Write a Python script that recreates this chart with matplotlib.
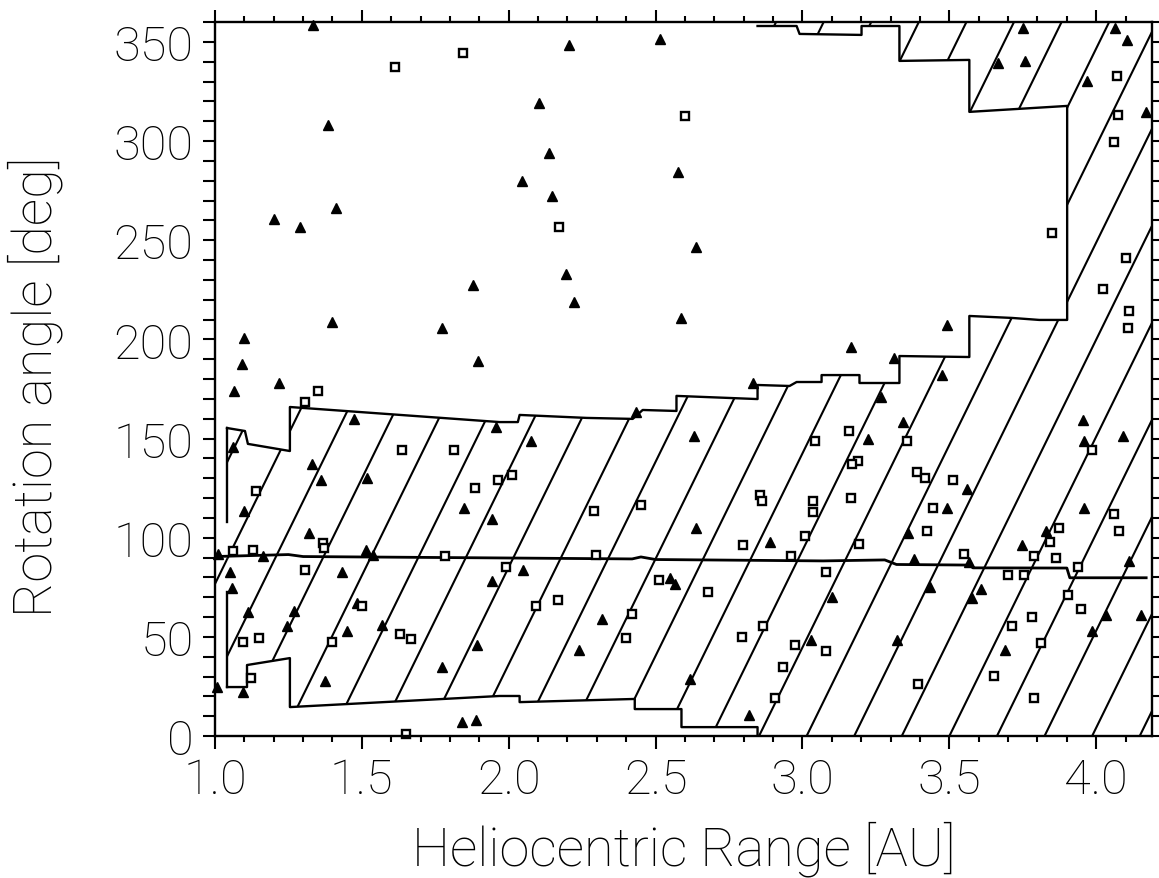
import numpy as np
import matplotlib
matplotlib.use("Agg")
import matplotlib.pyplot as plt
from matplotlib.patches import Polygon
from matplotlib.ticker import MultipleLocator

plt.rcParams['font.family'] = ['Roboto', 'DejaVu Sans']
plt.rcParams['font.weight'] = 'light'
plt.rcParams['axes.labelweight'] = 'light'

# filled triangles (range AU, rotation angle deg)
tri_x = [1.333, 1.385, 1.412, 1.201, 1.289,
         2.205, 2.514, 2.102, 2.137, 2.576, 2.044, 2.146, 2.636,
         3.752, 4.064, 4.105, 3.667, 3.759, 3.967, 4.169,
         1.877, 1.400, 1.772, 1.896, 1.100, 1.092, 1.218, 1.066, 1.472, 1.958,
         1.061, 1.330, 1.362, 1.517,
         2.194, 2.223, 2.588, 2.833, 2.432, 2.632, 2.075,
         3.491, 3.164, 3.311, 3.475, 3.268, 3.342, 3.223, 3.559, 3.956, 3.958, 4.092,
         1.100, 1.847, 1.942, 1.321, 1.514, 1.538, 1.011, 1.164, 1.051, 1.431,
         1.942, 1.057, 1.482, 1.111, 1.269, 1.244, 1.569, 1.448, 1.893, 1.774,
         1.376, 1.008, 1.096, 1.841, 1.890,
         2.636, 2.890, 2.049, 2.550, 2.567, 2.319, 2.238, 3.028, 2.618, 2.819,
         3.493, 3.358, 3.960, 3.828, 3.747, 3.568, 3.381, 4.110, 3.435, 3.609,
         3.576, 3.101, 4.033, 4.152, 3.984, 3.322, 3.688]
tri_y = [358.6, 308.1, 266.3, 260.7, 256.5,
         348.6, 351.5, 319.2, 294.0, 284.6, 280.0, 272.2, 246.6,
         356.8, 356.8, 351.1, 339.2, 340.2, 330.3, 314.8,
         227.4, 208.9, 205.9, 189.3, 200.5, 187.6, 178.0, 174.1, 159.9, 156.0,
         145.9, 137.2, 129.1, 130.0,
         233.0, 219.0, 210.6, 177.9, 163.2, 151.4, 148.9,
         207.1, 196.3, 190.8, 182.2, 170.8, 158.2, 149.8, 124.6, 159.4, 148.6, 151.1,
         113.6, 115.0, 109.4, 102.2, 93.8, 91.3, 91.8, 90.9, 82.9, 82.9,
         78.3, 74.4, 67.1, 62.7, 62.9, 55.6, 56.0, 53.1, 46.0, 34.6,
         27.9, 24.9, 22.3, 6.9, 8.2,
         104.7, 97.7, 83.9, 79.8, 76.5, 59.0, 43.5, 48.4, 28.7, 10.6,
         114.8, 102.2, 114.8, 103.2, 96.5, 87.9, 89.3, 88.1, 75.3, 74.1,
         69.6, 70.3, 61.0, 61.2, 52.8, 48.6, 43.2]

# open squares
sq_x = [1.612, 1.843, 2.601, 2.170, 4.069, 4.075, 4.059, 3.849,
        1.349, 1.307, 1.637, 1.813, 1.139, 1.884, 1.962,
        3.044, 2.011, 2.857,
        4.102, 4.024, 4.111, 4.109, 3.160, 3.357, 3.190, 3.168, 3.390, 3.418,
        3.512, 3.164, 3.986,
        1.366, 1.372, 1.128, 1.062, 1.783, 1.307, 1.502, 1.631, 1.668, 1.096,
        1.151, 1.397, 1.122, 1.649,
        2.291, 2.451, 2.862, 3.035, 3.035, 2.799, 3.008, 2.961, 2.298, 1.992,
        2.510, 2.678, 3.081, 2.092, 2.169, 2.421, 2.398, 2.864, 2.795, 2.976,
        3.081, 2.934, 2.907,
        3.446, 3.424, 3.194, 4.062, 4.079, 3.872, 3.842, 3.788, 3.862, 3.551,
        3.937, 3.701, 3.755, 3.904, 3.947, 3.782, 3.712, 3.813, 3.652, 3.392, 3.788]
sq_y = [337.5, 344.4, 312.5, 256.5, 333.0, 313.3, 299.3, 253.5,
        173.8, 168.3, 144.2, 144.2, 123.4, 125.1, 129.1,
        148.6, 131.8, 121.5,
        240.9, 225.4, 214.2, 205.9, 154.0, 148.6, 138.8, 137.2, 132.9, 130.1,
        128.9, 120.0, 144.2,
        97.3, 95.0, 93.9, 93.1, 90.9, 83.9, 65.7, 51.4, 48.9, 47.6,
        49.3, 47.6, 29.2, 0.9,
        113.6, 116.6, 118.7, 118.7, 113.1, 96.5, 100.7, 90.6, 91.3, 85.4,
        78.5, 72.8, 82.9, 65.7, 68.7, 61.5, 49.3, 55.3, 50.1, 45.9,
        43.0, 34.6, 19.0,
        114.8, 103.5, 96.8, 111.9, 103.5, 104.7, 97.7, 90.9, 89.6, 91.8,
        85.0, 81.3, 81.2, 71.1, 64.0, 60.0, 55.6, 47.1, 30.4, 26.2, 19.2]

# upper edge of the hatched region (left to right)
upper_x = [1.041, 1.102, 1.112, 1.255, 1.255, 1.969, 2.031, 2.037, 2.265, 2.422,
           2.456, 2.571, 2.571, 2.847, 2.847, 2.956, 2.980, 3.065, 3.065, 3.194,
           3.194, 3.330, 3.330, 3.568, 3.568, 3.714, 3.806, 3.901, 3.901, 3.568,
           3.568, 3.330, 3.330, 3.201, 3.201, 2.990, 2.980, 2.847]
upper_y = [155.3, 153.8, 147.3, 143.7, 165.9, 158.3, 158.3, 161.9, 160.4, 159.9,
           164.4, 163.9, 171.5, 169.9, 177.0, 176.5, 178.5, 178.5, 182.0, 182.0,
           178.0, 178.0, 191.6, 191.1, 211.8, 210.8, 209.8, 209.8, 317.7, 314.7,
           340.9, 340.4, 358.0, 358.0, 353.5, 354.0, 358.0, 358.0]

# lower edge of the hatched region (left to right)
lower_x = [1.041, 1.109, 1.109, 1.255, 1.255, 1.969, 2.037, 2.037, 2.429, 2.429,
           2.588, 2.588, 2.847, 2.847]
lower_y = [24.7, 24.7, 35.8, 39.3, 14.6, 20.2, 20.2, 17.1, 18.7, 13.6,
           13.6, 4.5, 4.5, 0.0]

# left edge pieces
left_x = [1.041, 1.041, 1.000, 1.000, 1.041, 1.041]
left_y = [155.3, 107.9, 107.9, 72.6, 72.6, 24.7]

# curve near 90 deg
mid_x = [1.00, 1.25, 1.30, 1.97, 2.42, 2.45, 2.50, 3.07, 3.28, 3.32, 3.57,
         3.58, 3.90, 3.91, 4.17]
mid_y = [90.5, 91.5, 90.5, 89.8, 89.3, 90.3, 89.0, 88.3, 88.8, 86.5, 86.2,
         84.8, 84.7, 79.8, 79.8]

xmax = 4.19

fig = plt.figure(figsize=(11.59, 8.79), dpi=100)
ax = fig.add_axes([0.1855, 0.1615, 0.8085, 0.8123])

# hatched region: polygon used as clip path for slanted lines
poly_x = lower_x + [xmax, xmax, 2.847] + upper_x[::-1] + left_x[::-1][1:-1]
poly_y = lower_y + [0, 360, 360] + upper_y[::-1] + left_y[::-1][1:-1]
patch = Polygon(np.column_stack([poly_x, poly_y]), closed=True,
                facecolor='none', edgecolor='none')
ax.add_patch(patch)

slope = 302.0      # deg per AU
spacing = 0.162
for x0 in np.arange(3.014 - 20 * spacing, xmax + spacing, spacing):
    ln, = ax.plot([x0, x0 + 360 / slope], [0, 360], color='black', lw=1.5)
    ln.set_clip_path(patch)

ax.plot(upper_x, upper_y, color='black', lw=1.7)
ax.plot(lower_x, lower_y, color='black', lw=1.7)
ax.plot(left_x[:2], left_y[:2], color='black', lw=1.7)
ax.plot(left_x[4:], left_y[4:], color='black', lw=1.7)
ax.plot(mid_x, mid_y, color='black', lw=2.0)

ax.plot(tri_x, tri_y, '^', color='black', ms=6.5, ls='none', clip_on=False)
ax.plot(sq_x, sq_y, 's', mfc='white', mec='black', mew=1.7, ms=5.5,
        ls='none', clip_on=False)

ax.set_xlim(1.0, xmax)
ax.set_ylim(0, 360)
ax.xaxis.set_minor_locator(MultipleLocator(0.1))
ax.yaxis.set_major_locator(MultipleLocator(50))
ax.yaxis.set_minor_locator(MultipleLocator(10))
ax.set_xticks([1.0, 1.5, 2.0, 2.5, 3.0, 3.5, 4.0])
ax.set_xticklabels(['1.0', '1.5', '2.0', '2.5', '3.0', '3.5', '4.0'])

for s in ax.spines.values():
    s.set_linewidth(1.7)
ax.tick_params(which='both', direction='out', top=True, right=True,
               width=1.5, labelsize=35)
ax.tick_params(axis='x', which='major', length=9, pad=6)
ax.tick_params(axis='x', which='minor', length=4.5)
ax.tick_params(axis='y', which='both', length=8.5, pad=7)

ax.set_xlabel('Heliocentric Range [AU]', fontsize=39, fontweight='light')
ax.set_ylabel('Rotation angle [deg]', fontsize=39, fontweight='light')
ax.xaxis.set_label_coords(0.5, -0.118)
ax.yaxis.set_label_coords(-0.162, 0.49)

fig.savefig('out.png', dpi=100)
